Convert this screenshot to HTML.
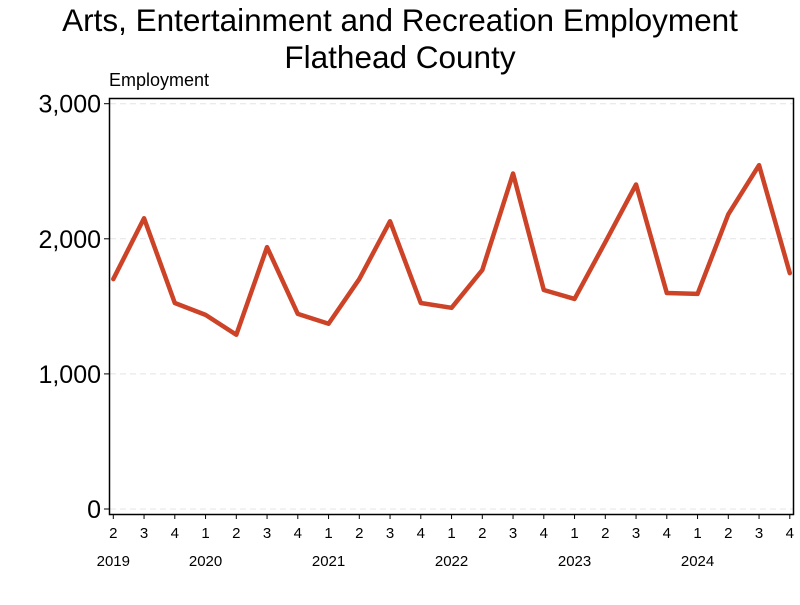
<!DOCTYPE html>
<html><head><meta charset="utf-8"><style>
body{margin:0;background:#fff;font-family:"Liberation Sans",sans-serif;}
svg text{font-family:"Liberation Sans",sans-serif;}
</style></head><body>
<svg id="chart" width="800" height="600">
<text x="400" y="31" text-anchor="middle" font-size="31.5">Arts, Entertainment and Recreation Employment</text>
<text x="400" y="68" text-anchor="middle" font-size="31.5">Flathead County</text>
<text x="109" y="86" font-size="18">Employment</text>
<g id="grid"></g>
<rect x="109.5" y="98.5" width="684" height="416" fill="none" stroke="#000" stroke-width="1.5"/>
<g id="yaxis"></g><g id="xaxis"></g><g id="series"></g>
</svg>
<script>
const quarters=["2","3","4","1","2","3","4","1","2","3","4","1","2","3","4","1","2","3","4","1","2","3","4"];
const years=["2019","2020","2021","2022","2023","2024"];
const yearIndex=[0,3,7,11,15,19];
const employment=[1702,2152,1525,1437,1290,1938,1444,1371,1702,2130,1525,1489,1769,2483,1621,1555,1975,2402,1599,1592,2181,2545,1746];
const yTicks=[0,1000,2000,3000];
const yLabels=["0","1,000","2,000","3,000"];
const NS="http://www.w3.org/2000/svg";
const X0=113.3,DX=30.75,Y0=509,YS=(509-103.7)/3000;
const xs=i=>X0+i*DX, ys=v=>Y0-v*YS;
function mk(t,a,p){const e=document.createElementNS(NS,t);for(const k in a)e.setAttribute(k,a[k]);p.appendChild(e);return e;}
const grid=document.getElementById('grid'),ya=document.getElementById('yaxis'),xa=document.getElementById('xaxis'),se=document.getElementById('series');
yTicks.forEach((v,i)=>{
 const g=mk('line',{x1:110,x2:793,y1:ys(v),y2:ys(v),stroke:'#e4e4e4','stroke-dasharray':'6,4'},grid);
 
 
 const t=mk('line',{x1:104,x2:109,y1:ys(v),y2:ys(v),stroke:'#000'},ya);
 
 
 const l=mk('text',{x:101,y:ys(v)+9,'text-anchor':'end','font-size':25},ya);
 l.textContent=yLabels[i];
 
 
});
quarters.forEach((q,i)=>{
 const t=mk('line',{x1:xs(i),x2:xs(i),y1:514,y2:519,stroke:'#000'},xa);
 
 
 const l=mk('text',{x:xs(i),y:538,'text-anchor':'middle','font-size':15},xa);
 l.textContent=q;
 
 
});
years.forEach((y,i)=>{
 const l=mk('text',{x:xs(yearIndex[i]),y:566,'text-anchor':'middle','font-size':15},xa);
 l.textContent=y;
 
 
});
const p=mk('polyline',{points:employment.map((v,i)=>xs(i)+','+ys(v)).join(' '),fill:'none',stroke:'#cc4328','stroke-width':4.5,'stroke-linejoin':'round','stroke-linecap':'round'},se);


</script>
</body></html>
